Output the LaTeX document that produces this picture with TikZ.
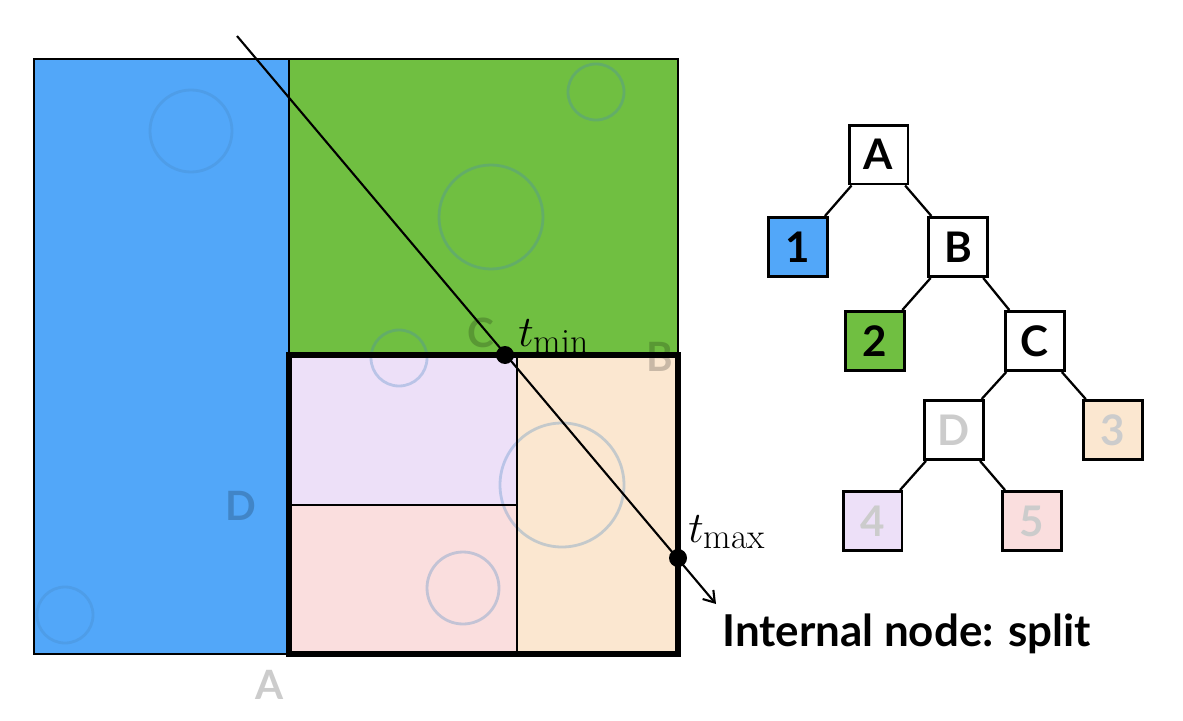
\documentclass[tikz,border=0pt]{standalone}
\usepackage{fontspec}
\setsansfont{Lato}
\usetikzlibrary{arrows.meta}
\definecolor{cblue}{RGB}{82,167,249}
\definecolor{cgreen}{RGB}{112,191,65}
\definecolor{cpurple}{RGB}{237,224,248}
\definecolor{cpink}{RGB}{250,222,222}
\definecolor{cpeach}{RGB}{251,231,208}
\definecolor{cghost}{RGB}{204,204,204}
\definecolor{ccirc}{RGB}{70,134,194}
\begin{document}
\begin{tikzpicture}[x=0.02cm,y=-0.02cm,
  thin line/.style={line width=1.3pt},
  thick box/.style={line width=3.4pt},
  circ/.style={draw=ccirc,draw opacity=0.3,line width=1.6pt},
  ghost/.style={font=\sffamily\bfseries\fontsize{23}{23}\selectfont,text=black,text opacity=0.2,inner sep=0pt},
  treebox/.style={draw,line width=1.7pt,minimum size=1.18cm,inner sep=0pt,font=\sffamily\bfseries\fontsize{24}{24}\selectfont},
  grey text/.style={text=cghost},
  edge/.style={line width=1.3pt},
  dot/.style={circle,fill=black,inner sep=0pt,minimum size=0.36cm},
  mathlbl/.style={inner sep=0pt,font=\fontsize{29}{29}\selectfont}]
\useasboundingbox (0,0) rectangle (1183,720);
% fills
\fill[cblue] (34,59) rectangle (289,654);
\fill[cgreen] (289,59) rectangle (678,355);
\fill[cpurple] (289,355) rectangle (517,505);
\fill[cpink] (289,505) rectangle (517,654);
\fill[cpeach] (517,355) rectangle (678,654);
% circles
\draw[circ] (191,131) circle[radius=41];
\draw[circ] (596,92) circle[radius=28];
\draw[circ] (491,217) circle[radius=52];
\draw[circ] (399,358) circle[radius=28];
\draw[circ] (562,485) circle[radius=62];
\draw[circ] (463,588) circle[radius=36];
\draw[circ] (65,615) circle[radius=28];
% ghost labels
\node[ghost] (lC) at (481,333) {C};
\node[ghost] (lB) at (660,357) {B};
\node[ghost] (lD) at (241,506) {D};
\node[ghost] (lA) at (270,685) {A};
% borders
\draw[thin line] (34,59) rectangle (289,654);
\draw[thin line] (289,59) rectangle (678,355);
\draw[thin line] (289,505) -- (517,505);
\draw[thin line] (517,355) -- (517,654);
\draw[thick box] (289,355) rectangle (678,654);
% ray
\coordinate (r0) at (237,36);
\coordinate (r1) at (716,604);
\draw[line width=1.2pt,-{Straight Barb[length=6pt,width=8pt]}] (r0) -- (r1);
\node[dot] (tmin) at (505,355) {};
\node[dot] (tmax) at (678,558) {};
\node[mathlbl,anchor=base west] (lmin) at (518,346) {$t_{\min}$};
\node[mathlbl,anchor=base west] (lmax) at (688,542) {$t_{\max}$};
\node[anchor=base west,inner sep=0pt,font=\sffamily\bfseries\fontsize{25}{25}\selectfont] (cap) at (722,646) {Internal node: split};
% tree
\node[treebox,fill=white] (A) at (878.5,154.5) {A};
\node[treebox,fill=cblue] (n1) at (798,247) {1};
\node[treebox,fill=white] (B) at (958,247) {B};
\node[treebox,fill=cgreen] (n2) at (875,341) {2};
\node[treebox,fill=white] (C) at (1034.5,341) {C};
\node[treebox,fill=white,grey text] (D) at (953.5,430) {D};
\node[treebox,fill=cpeach,grey text] (n3) at (1113,430) {3};
\node[treebox,fill=cpurple,grey text] (n4) at (872.5,521) {4};
\node[treebox,fill=cpink,grey text] (n5) at (1031.5,521) {5};
\draw[edge] (A) -- (n1);
\draw[edge] (A) -- (B);
\draw[edge] (B) -- (n2);
\draw[edge] (B) -- (C);
\draw[edge] (C) -- (D);
\draw[edge] (C) -- (n3);
\draw[edge] (D) -- (n4);
\draw[edge] (D) -- (n5);
\end{tikzpicture}
\end{document}
